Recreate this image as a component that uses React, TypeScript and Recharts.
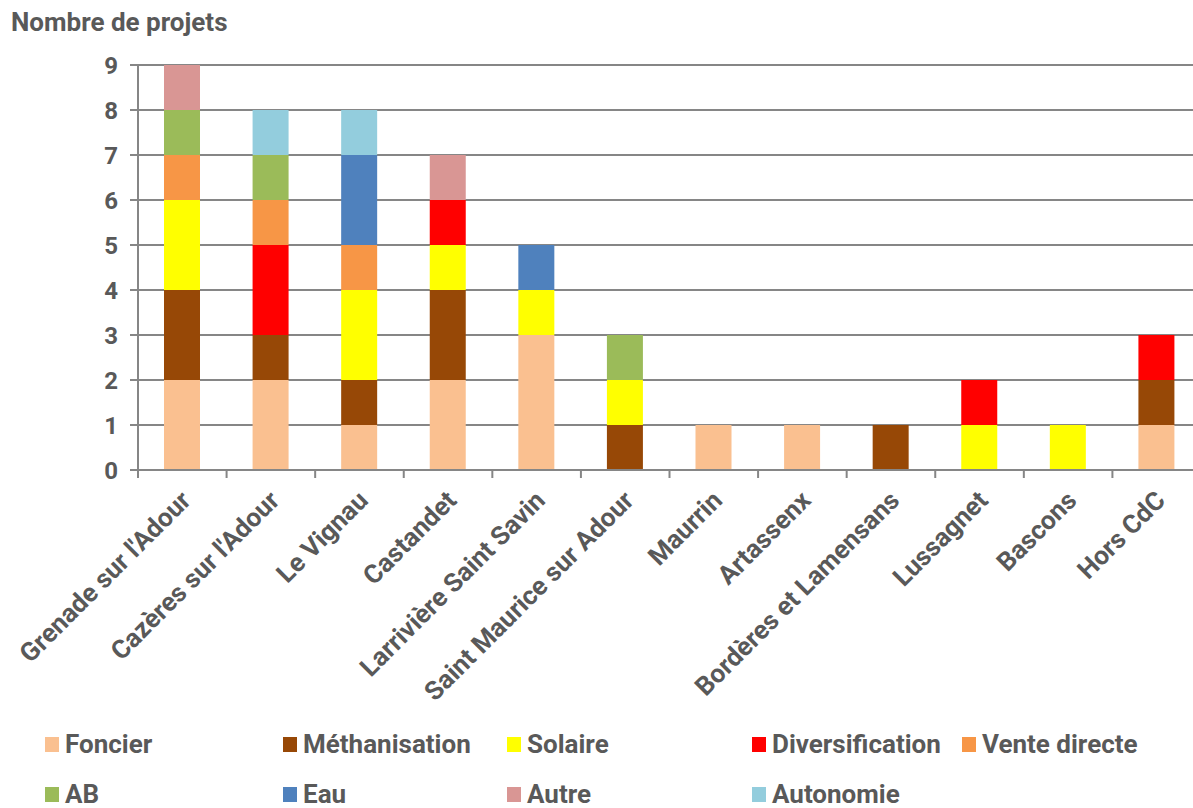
import { BarChart, Bar, XAxis, YAxis, CartesianGrid, Legend } from "recharts";

// Communes (catégories)
const communes = [
  "Grenade sur l'Adour",
  "Cazères sur l'Adour",
  "Le Vignau",
  "Castandet",
  "Larrivière Saint Savin",
  "Saint Maurice sur Adour",
  "Maurrin",
  "Artassenx",
  "Bordères et Lamensans",
  "Lussagnet",
  "Bascons",
  "Hors CdC",
];

// Nombre de projets par thème
const foncier = [2, 2, 1, 2, 3, 0, 1, 1, 0, 0, 0, 1];
const methanisation = [2, 1, 1, 2, 0, 1, 0, 0, 1, 0, 0, 1];
const solaire = [2, 0, 2, 1, 1, 1, 0, 0, 0, 1, 1, 0];
const diversification = [0, 2, 0, 1, 0, 0, 0, 0, 0, 1, 0, 1];
const venteDirecte = [1, 1, 1, 0, 0, 0, 0, 0, 0, 0, 0, 0];
const ab = [1, 1, 0, 0, 0, 1, 0, 0, 0, 0, 0, 0];
const eau = [0, 0, 2, 0, 1, 0, 0, 0, 0, 0, 0, 0];
const autre = [1, 0, 0, 1, 0, 0, 0, 0, 0, 0, 0, 0];
const autonomie = [0, 1, 1, 0, 0, 0, 0, 0, 0, 0, 0, 0];

const yTicks = [0, 1, 2, 3, 4, 5, 6, 7, 8, 9];

const series = [
  { key: "foncier", name: "Foncier", values: foncier, color: "#FAC090" },
  { key: "methanisation", name: "Méthanisation", values: methanisation, color: "#974806" },
  { key: "solaire", name: "Solaire", values: solaire, color: "#FFFF00" },
  { key: "diversification", name: "Diversification", values: diversification, color: "#FF0000" },
  { key: "venteDirecte", name: "Vente directe", values: venteDirecte, color: "#F79646" },
  { key: "ab", name: "AB", values: ab, color: "#9BBB59" },
  { key: "eau", name: "Eau", values: eau, color: "#4F81BD" },
  { key: "autre", name: "Autre", values: autre, color: "#D99694" },
  { key: "autonomie", name: "Autonomie", values: autonomie, color: "#93CDDD" },
];

const data = communes.map((commune, i) => {
  const row: Record<string, string | number> = { commune };
  series.forEach((s) => {
    row[s.key] = s.values[i];
  });
  return row;
});

const FONT = "Roboto, 'Liberation Sans', sans-serif";
const TEXT = "#595959";
const AXIS = "#868686";

const CHART_W = 1201;
const PLOT_LEFT = 138;
const BAND = (CHART_W - PLOT_LEFT) / communes.length;

const CategoryTick = (props: any) => {
  const { x, y, payload, index } = props;
  const left = x - BAND / 2;
  return (
    <g>
      <line x1={left} y1={y - 8} x2={left} y2={y} stroke={AXIS} strokeWidth={2} />
      {index === communes.length - 1 && (
        <line x1={x + BAND / 2} y1={y - 8} x2={x + BAND / 2} y2={y} stroke={AXIS} strokeWidth={2} />
      )}
      <text
        x={x + 10}
        y={y + 24}
        textAnchor="end"
        transform={`rotate(-45, ${x + 10}, ${y + 24})`}
        fill={TEXT}
        fontFamily={FONT}
        fontWeight={700}
        fontSize={26}
      >
        {payload.value}
      </text>
    </g>
  );
};

const legendCols = [45, 283, 507, 752, 962];

const renderLegend = () => (
  <div style={{ position: "relative", width: 1193, height: 80, fontFamily: FONT }}>
    {series.map((s, i) => (
      <div
        key={s.key}
        style={{
          position: "absolute",
          left: legendCols[i % 5],
          top: Math.floor(i / 5) * 50,
          display: "flex",
          alignItems: "center",
          color: TEXT,
          fontWeight: 700,
          fontSize: 26,
          whiteSpace: "nowrap",
        }}
      >
        <span style={{ width: 14, height: 15, background: s.color, marginRight: 6, display: "inline-block" }} />
        {s.name}
      </div>
    ))}
  </div>
);

export default function App() {
  return (
    <div style={{ position: "absolute", left: 0, top: 0, width: 1193, height: 808, overflow: "hidden", background: "#fff" }}>
      <div
        style={{
          position: "absolute",
          left: 11,
          top: 7,
          fontFamily: FONT,
          fontWeight: 700,
          fontSize: 26,
          color: TEXT,
        }}
      >
        Nombre de projets
      </div>
      <BarChart
        width={CHART_W}
        height={808}
        data={data}
        margin={{ top: 65, right: 0, bottom: 0, left: 0 }}
        barSize={36}
      >
        <CartesianGrid vertical={false} stroke={AXIS} strokeWidth={2} />
        <XAxis
          dataKey="commune"
          interval={0}
          height={258}
          tickLine={false}
          axisLine={{ stroke: AXIS, strokeWidth: 2 }}
          tick={<CategoryTick />}
        />
        <YAxis
          width={PLOT_LEFT}
          domain={[0, 9]}
          ticks={yTicks}
          interval={0}
          tickSize={8}
          tickMargin={12}
          tickLine={{ stroke: AXIS, strokeWidth: 2 }}
          axisLine={{ stroke: AXIS, strokeWidth: 2 }}
          tick={{ fill: TEXT, fontFamily: FONT, fontWeight: 700, fontSize: 24 }}
        />
        <Legend
          content={renderLegend}
          wrapperStyle={{ position: "absolute", left: 0, top: 729, width: 1193 }}
        />
        {series.map((s) => (
          <Bar key={s.key} dataKey={s.key} name={s.name} stackId="a" fill={s.color} isAnimationActive={false} />
        ))}
      </BarChart>
    </div>
  );
}
